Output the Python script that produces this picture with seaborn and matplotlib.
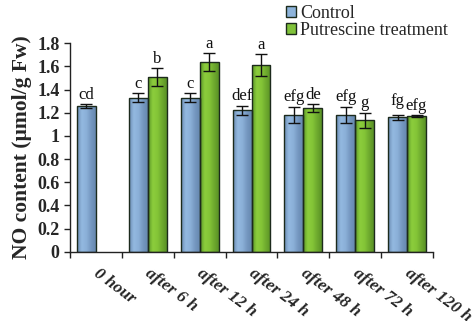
import numpy as np
import pandas as pd
import matplotlib
matplotlib.use("Agg")
import matplotlib.pyplot as plt
from matplotlib.colors import LinearSegmentedColormap
from matplotlib.patches import Patch
import seaborn as sns

# ---- data ----
times = ["0 hour", "after 6 h", "after 12 h", "after 24 h",
         "after 48 h", "after 72 h", "after 120 h"]
groups = ["Control", "Putrescine treatment"]
control_mean = [1.26, 1.33, 1.33, 1.22, 1.18, 1.18, 1.16]
control_err = [0.015, 0.04, 0.04, 0.04, 0.07, 0.07, 0.02]
control_letters = ["cd", "c", "c", "def", "efg", "efg", "fg"]
treat_mean = [np.nan, 1.51, 1.64, 1.61, 1.24, 1.135, 1.17]
treat_err = [np.nan, 0.075, 0.075, 0.095, 0.035, 0.063, 0.01]
treat_letters = ["", "b", "a", "a", "de", "g", "efg"]
y_ticks = [0, 0.2, 0.4, 0.6, 0.8, 1, 1.2, 1.4, 1.6, 1.8]
y_tick_labels = ["0", "0.2", "0.4", "0.6", "0.8", "1", "1.2", "1.4", "1.6", "1.8"]

df = pd.DataFrame({
    "time": times * 2,
    "group": [groups[0]] * len(times) + [groups[1]] * len(times),
    "value": control_mean + treat_mean,
})
err = {groups[0]: control_err, groups[1]: treat_err}
letters = {groups[0]: control_letters, groups[1]: treat_letters}

sns.set_theme(style="ticks")
plt.rcParams["font.family"] = ["Liberation Serif", "DejaVu Serif"]

fig = plt.figure(figsize=(4.74, 3.21), dpi=100)
ax = fig.add_axes([70 / 474, 1 - 251.7 / 321, 363 / 474, 208.4 / 321])

palette = {groups[0]: "#8db3da", groups[1]: "#80c23a"}
sns.barplot(data=df, x="time", y="value", hue="group", order=times,
            hue_order=groups, palette=palette, errorbar=None, width=0.73,
            edgecolor="#1c2a1c", linewidth=1.0, saturation=1, legend=False, ax=ax)

gradients = {
    groups[0]: LinearSegmentedColormap.from_list(
        "blue", ["#6a8bb2", "#93b9e0", "#8bb0d8", "#7597c0", "#6789b0"]),
    groups[1]: LinearSegmentedColormap.from_list(
        "green", ["#5a9628", "#8ccd3c", "#84c537", "#6eaa2e", "#5a9226"]),
}
ramp = np.linspace(0, 1, 64).reshape(1, -1)

# the control letter of the last group sits a little higher to clear its neighbour
lift = {(groups[0], len(times) - 1): 3}

for container, grp in zip(ax.containers, groups):
    for patch in container.patches:
        h = patch.get_height()
        if not np.isfinite(h) or h <= 0:
            continue
        x0, w = patch.get_x(), patch.get_width()
        cx = x0 + w / 2
        idx = int(round(cx))
        # horizontal shading inside each bar
        img = ax.imshow(ramp, cmap=gradients[grp], aspect="auto",
                        extent=(x0, x0 + w, 0, h), zorder=patch.get_zorder() + 0.1,
                        interpolation="bilinear")
        img.set_clip_path(patch)
        patch.set_facecolor("none")
        patch.set_zorder(patch.get_zorder() + 0.2)
        e = err[grp][idx]
        ax.errorbar(cx, h, yerr=e, fmt="none", ecolor="#111111",
                    elinewidth=1.0, capsize=4, capthick=1.0, zorder=5)
        ax.annotate(letters[grp][idx], (cx, h + e),
                    xytext=(0, 4 + lift.get((grp, idx), 0)),
                    textcoords="offset points", ha="center", va="baseline",
                    fontsize=12, color="#111111", annotation_clip=False)

ax.set_xlim(-0.5, len(times) - 0.5)
ax.set_ylim(0, 1.8)
ax.set_yticks(y_ticks)
ax.set_yticklabels(y_tick_labels, fontsize=13, fontweight="bold")
ax.set_xticks(np.arange(len(times) + 1) - 0.5)
ax.set_xticklabels([])
for i, lab in enumerate(times):
    ax.text(i + 0.08, -0.12, lab, rotation=-37, rotation_mode="anchor",
            ha="left", va="top", fontsize=12.5, fontweight="bold",
            fontstyle="italic", transform=ax.transData, clip_on=False)

ax.set_xlabel("")
ax.set_ylabel("NO content (µmol/g Fw)", fontsize=15.5, fontweight="bold", labelpad=4)
ax.tick_params(axis="both", direction="out", length=4, width=1.0, color="#222222")
for side in ["top", "right"]:
    ax.spines[side].set_visible(False)
for side in ["left", "bottom"]:
    ax.spines[side].set_color("#222222")
    ax.spines[side].set_linewidth(1.0)
ax.set_facecolor("white")

handles = [Patch(facecolor=palette[g], edgecolor="#1c2a1c", linewidth=1.0) for g in groups]
fig.legend(handles, groups, loc="upper left", bbox_to_anchor=(273 / 474, 1.025),
           frameon=False, fontsize=13, handlelength=0.6, handleheight=0.6,
           handletextpad=0.2, labelspacing=0.0, borderpad=0.2)

fig.savefig("out.png", dpi=100, facecolor="white")
